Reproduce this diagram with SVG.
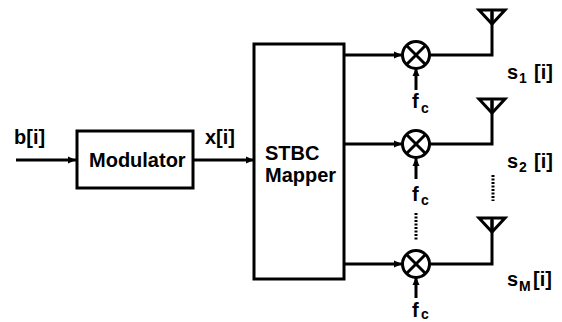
<svg xmlns="http://www.w3.org/2000/svg" width="562" height="322" viewBox="0 0 562 322">
<defs>
<marker id="arrow" markerUnits="userSpaceOnUse" markerWidth="10" markerHeight="10" refX="8" refY="5" orient="auto"><path d="M0 1.500L8 5L0 8.500Z" fill="#000"/></marker>
<g id="ant"><path d="M-13 0H13L0 14Z" fill="none" stroke="#000" stroke-width="3"/><path d="M0 0V14" stroke="#000" stroke-width="3"/></g>
<g id="mix"><circle r="13.500" fill="#fff" stroke="#000" stroke-width="3"/><path d="M-9.500 -9.500L9.500 9.500M-9.500 9.500L9.500 -9.500" stroke="#000" stroke-width="3"/></g>
</defs>
<style>
text{font-family:"Liberation Sans",Arial,sans-serif;font-weight:700;fill:#000}
.t{font-size:20px}
.s{font-size:14px}
.l{stroke:#000;stroke-width:3;fill:none}
.a{marker-end:url(#arrow)}
.d{stroke:#000;stroke-width:3;stroke-dasharray:2 1.500;fill:none}
.b{fill:#fff;stroke:#000;stroke-width:3}
</style>
<rect width="562" height="322" fill="#fff"/>
<g id="connectors">
<path class="l a" d="M16 160H76"/>
<path class="l a" d="M194 160H254"/>
<path class="l a" d="M344 55H402"/>
<path class="l a" d="M344 144H402"/>
<path class="l a" d="M344 264H402"/>
<path class="l a" d="M416 90V68"/>
<path class="l a" d="M416 179V158"/>
<path class="l a" d="M416 298V277"/>
<path class="l" d="M430 55H492V12"/>
<path class="l" d="M430 144H492V101"/>
<path class="l" d="M430 264H492V220"/>
<path class="d" d="M416 213V240"/>
<path class="d" d="M493 175V201"/>
</g>
<g id="input"><text class="t" x="14" y="144">b[i]</text></g>
<g id="modulator"><rect class="b" x="77" y="131" width="116" height="57"/><text class="t" x="89" y="167">Modulator</text></g>
<g id="output"><text class="t" x="205" y="144">x[i]</text></g>
<g id="mapper"><rect class="b" x="254" y="44" width="90" height="235"/><text class="t" x="265" y="160">STBC</text><text class="t" x="265" y="182">Mapper</text></g>
<g id="mixer1"><use href="#mix" x="416" y="55"/></g>
<g id="mixer2"><use href="#mix" x="416" y="144"/></g>
<g id="mixer3"><use href="#mix" x="416" y="264"/></g>
<g id="fc1"><text class="t" x="412" y="108">f</text><text class="s" x="421" y="113">c</text></g>
<g id="fc2"><text class="t" x="412" y="201">f</text><text class="s" x="421" y="205">c</text></g>
<g id="fc3"><text class="t" x="412" y="317">f</text><text class="s" x="421" y="319">c</text></g>
<g id="antenna1"><use href="#ant" x="492" y="10"/></g>
<g id="antenna2"><use href="#ant" x="492" y="99"/></g>
<g id="antenna3"><use href="#ant" x="492" y="218"/></g>
<g id="s1"><text class="t" x="507" y="79">s</text><text class="s" x="519" y="83">1</text><text class="t" x="534" y="79">[i]</text></g>
<g id="s2"><text class="t" x="507" y="168">s</text><text class="s" x="519" y="172">2</text><text class="t" x="534" y="168">[i]</text></g>
<g id="sM"><text class="t" x="507" y="286">s</text><text class="s" x="519" y="291">M</text><text class="t" x="533" y="286">[i]</text></g>
</svg>
